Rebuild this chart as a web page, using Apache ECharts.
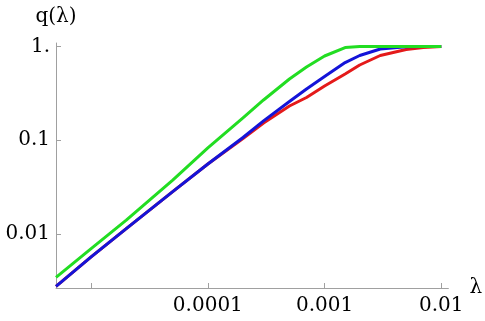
<!DOCTYPE html>
<html>
<head>
<meta charset="utf-8">
<script src="https://cdn.jsdelivr.net/npm/echarts@6/dist/echarts.min.js"></script>
<style>
html, body { margin: 0; padding: 0; background: #fff; }
#chart { width: 485px; height: 321px; }
</style>
</head>
<body>
<div id="chart"></div>
<script>
// lambda values where the curves were read
var lambdas = [5e-6, 1e-5, 2e-5, 5e-5, 1e-4, 2e-4, 3e-4, 5e-4, 7e-4, 1e-3, 1.5e-3, 2e-3, 3e-3, 5e-3, 7e-3, 1e-2]

// q(lambda) for each curve
var qGreen = [0.00346, 0.0070, 0.0141, 0.0377, 0.0828, 0.173, 0.269, 0.450, 0.604, 0.792, 0.975, 1, 1, 1, 1, 1]
var qBlue  = [0.00277, 0.0057, 0.01145, 0.0284, 0.0559, 0.107, 0.161, 0.259, 0.352, 0.479, 0.674, 0.802, 0.940, 0.993, 1, 1]
var qRed   = [0.00277, 0.0057, 0.01145, 0.0284, 0.0559, 0.1045, 0.153, 0.232, 0.286, 0.379, 0.509, 0.635, 0.802, 0.929, 0.976, 1]

var xTickValues = [1e-5, 1e-4, 1e-3, 1e-2]
var xLabelValues = [1e-4, 1e-3, 1e-2]
var xLabelTexts = ['0.0001', '0.001', '0.01']
var yTickValues = [0.01, 0.1, 1]
var yLabelTexts = ['0.01', '0.1', '1.']

function pairs(ys) {
	return lambdas.map(function (x, i) { return [x, ys[i]] })
}

function labelFor(v, values, texts) {
	for (var i = 0; i < values.length; i++) {
		if (Math.abs(Math.log10(v) - Math.log10(values[i])) < 1e-6) {
			return texts[i]
		}
	}
	return ''
}

var axisFont = { fontFamily: 'DejaVu Serif', fontSize: 20, color: '#000' }
var axisLine = { lineStyle: { color: '#a0a0a0', width: 1 } }

var myChart = echarts.init(document.getElementById('chart'))

var option = {
	animation: false,
	backgroundColor: '#fff',
	grid: { left: 56, right: 29, top: 43, bottom: 33 },
	xAxis: {
		type: 'log',
		min: 5e-6,
		max: 0.0115,
		name: 'λ',
		nameLocation: 'end',
		nameGap: 8,
		nameTextStyle: Object.assign({ padding: [14, 0, 0, 0] }, axisFont),
		axisLine: axisLine,
		axisTick: { inside: true, length: 5, lineStyle: { color: '#a0a0a0' }, customValues: xTickValues },
		axisLabel: Object.assign({
			margin: 8,
			customValues: xLabelValues,
			formatter: function (v) { return labelFor(v, xLabelValues, xLabelTexts) }
		}, axisFont),
		splitLine: { show: false },
		minorTick: { show: false }
	},
	yAxis: {
		type: 'log',
		min: 0.00266,
		max: 1.09,
		name: 'q(λ)',
		nameLocation: 'end',
		nameGap: 16,
		nameTextStyle: Object.assign({ align: 'center' }, axisFont),
		axisLine: axisLine,
		axisTick: { inside: true, length: 5, lineStyle: { color: '#a0a0a0' }, customValues: yTickValues },
		axisLabel: Object.assign({
			margin: 6,
			customValues: yTickValues,
			formatter: function (v) { return labelFor(v, yTickValues, yLabelTexts) }
		}, axisFont),
		splitLine: { show: false }
	},
	series: [
		{ type: 'line', data: pairs(qRed), symbol: 'none', lineStyle: { color: '#e41a1a', width: 3, join: 'round' } },
		{ type: 'line', data: pairs(qBlue), symbol: 'none', lineStyle: { color: '#1414d8', width: 3, join: 'round' } },
		{ type: 'line', data: pairs(qGreen), symbol: 'none', lineStyle: { color: '#22dd22', width: 3, join: 'round' } }
	]
}

myChart.setOption(option, true)
</script>
</body>
</html>
